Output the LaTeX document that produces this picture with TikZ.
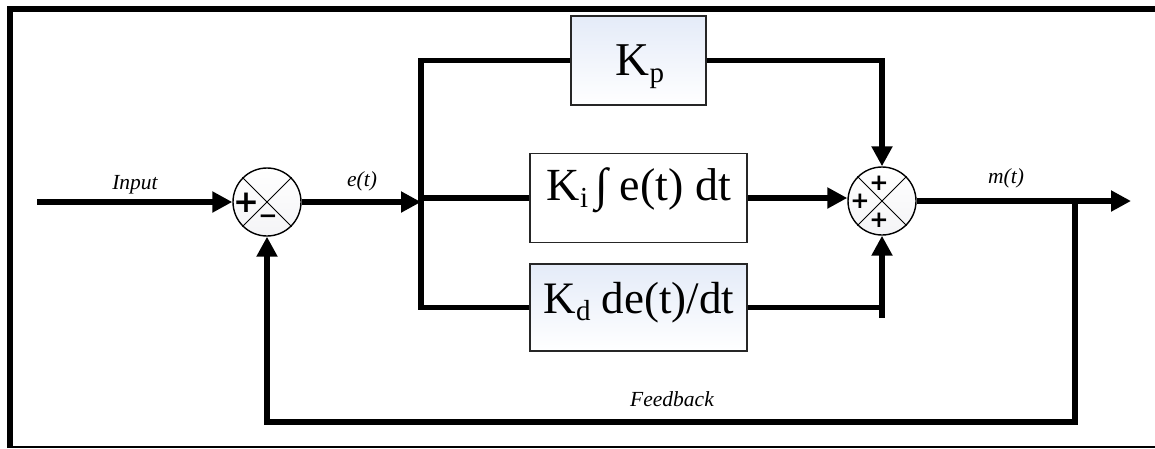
\documentclass[tikz,border=0pt]{standalone}
\usepackage{fontspec}
\setmainfont{Liberation Serif}
\newfontfamily\signfont{DejaVu Sans}
\usetikzlibrary{arrows.meta,calc}
\newcommand{\mysub}[1]{\raisebox{-0.17em}{\fontsize{29}{29}\selectfont #1}}
\definecolor{boxblue}{RGB}{228,235,248}
\definecolor{sumgray}{RGB}{244,244,246}
\begin{document}
\begin{tikzpicture}[x=1pt,y=-1pt,
  wire/.style={line width=5.5pt},
  arr/.style={line width=5.5pt,-{Triangle[length=20pt,width=20pt]}},
  blockbox/.style={draw=black!85,line width=1.2pt,inner sep=0pt},
  bluebox/.style={blockbox,top color=boxblue,bottom color=white},
  whitebox/.style={blockbox,fill=white},
  blocktext/.style={anchor=base,inner sep=0pt,font=\fontsize{45}{45}\selectfont},
  sumnode/.style={circle,draw,line width=1.4pt,minimum size=68pt,inner sep=0pt,top color=white,bottom color=sumgray},
  lbl/.style={anchor=base,inner sep=0pt,font=\fontsize{21.5}{21.5}\selectfont\itshape},
  sgnbig/.style={inner sep=0pt,font=\signfont\bfseries\fontsize{31}{31}\selectfont},
  sgnsmall/.style={inner sep=0pt,font=\signfont\bfseries\fontsize{23}{23}\selectfont}
]
\useasboundingbox (0,0) rectangle (1155,448);
% frame
\draw[line width=6pt] (10,448) -- (10,9) -- (1155,9);
\draw[line width=1.5pt] (10,446.8) -- (1155,446.8);

% blocks
\node[bluebox,minimum width=135pt,minimum height=89pt] (kp) at (638.5,60.5) {};
\node[whitebox,minimum width=217pt,minimum height=89pt] (ki) at (638.5,198) {};
\node[bluebox,minimum width=217pt,minimum height=87pt] (kd) at (638.5,307.5) {};
\node[blocktext,font=\fontsize{47}{47}\selectfont] (kpt) at (640,75) {K\mysub{p}};
\node[blocktext,font=\fontsize{46}{46}\selectfont] (kit) at (639,200) {K\mysub{i}\,∫ e(t) dt};
\node[blocktext] (kdt) at (639,313) {K\mysub{d} de(t)/dt};

% summing junctions
\node[sumnode] (s1) at (267,202) {};
\draw[line width=0.9pt] (s1.north west) -- (s1.south east) (s1.north east) -- (s1.south west);
\node[sumnode] (s2) at (882,201) {};
\draw[line width=0.9pt] (s2.north west) -- (s2.south east) (s2.north east) -- (s2.south west);
\node[sgnbig] (p1) at (246,203) {+};
\node[sgnsmall] (m1) at (268,219) {−};
\node[sgnsmall] (p2) at (879,183) {+};
\node[sgnsmall] (p3) at (860,201) {+};
\node[sgnsmall] (p4) at (879,220) {+};

% coordinates
\coordinate (in) at (37,202);
\coordinate (j) at (421,202);
\coordinate (jt) at (421,60.5);
\coordinate (jb) at (421,307.5);
\coordinate (jm) at (421,198);
\coordinate (kdend) at (882,318);
\coordinate (out) at (1131,201);
\coordinate (fbtop) at (1075,201);
\coordinate (fbbot) at (1075,422);

% connectors
\draw[arr] (in) -- (s1.west);
\draw[arr] (s1.east) -- (j);
\draw[wire] (kp.west) -- (jt) -- (jb) -- (kd.west);
\draw[wire] (jm) -- (ki.west);
\draw[arr] (kp.east) -| (s2.north);
\draw[arr] (ki.east) -- (ki.east -| s2.west);
\draw[wire] (kd.east) -- (kd.east -| kdend);
\draw[arr] (kdend) -- (s2.south);
\draw[arr] (s2.east) -- (out);
\draw[arr] (fbtop) -- (fbbot) -| (s1.south);

% labels
\node[lbl] (linput) at (135,189) {Input};
\node[lbl] (let) at (362,186) {e(t)};
\node[lbl] (lmt) at (1006,183) {m(t)};
\node[lbl] (lfb) at (672,406) {Feedback};
\end{tikzpicture}
\end{document}
